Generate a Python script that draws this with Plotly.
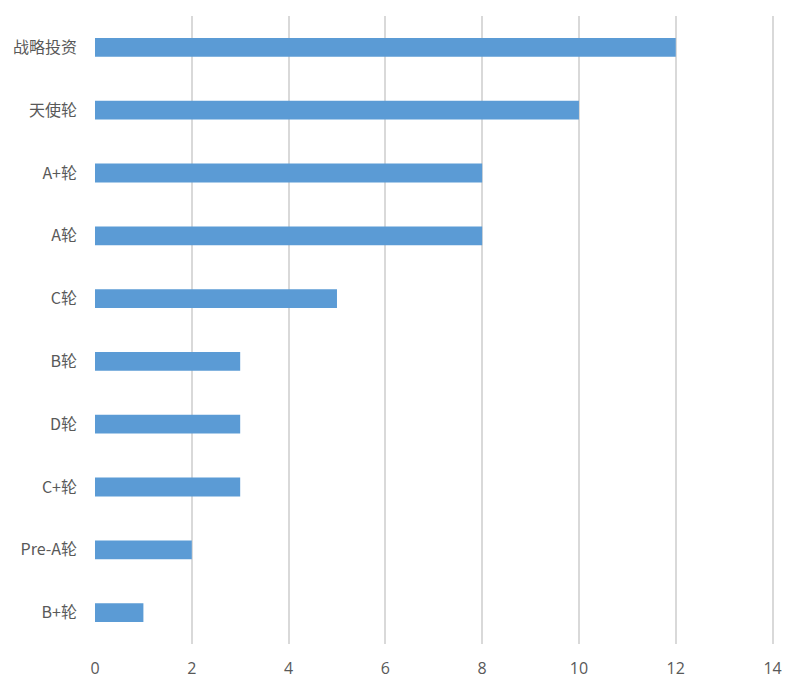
import plotly.graph_objects as go

categories = ["战略投资", "天使轮", "A+轮", "A轮", "C轮", "B轮", "D轮", "C+轮", "Pre-A轮", "B+轮"]
values = [12, 10, 8, 8, 5, 3, 3, 3, 2, 1]
x_ticks = [0, 2, 4, 6, 8, 10, 12, 14]

fig = go.Figure(go.Bar(
    x=values, y=categories, orientation="h",
    marker=dict(color="#5B9BD5", line=dict(width=0)),
    width=0.3,
))

fig.update_layout(
    width=800, height=685,
    margin=dict(l=95, r=26, t=16, b=41),
    plot_bgcolor="white", paper_bgcolor="white",
    font=dict(family="Open Sans, Noto Sans CJK SC, sans-serif", size=15, color="#595959"),
    showlegend=False,
)
fig.update_xaxes(
    range=[0, 14.03], tickvals=x_ticks, showgrid=True, gridcolor="#d9d9d9", gridwidth=1.5,
    zeroline=False, showline=False, ticks="", ticklabelstandoff=13,
    tickfont=dict(size=16), automargin=False,
)
fig.update_yaxes(
    categoryorder="array", categoryarray=categories, autorange="reversed",
    showgrid=False, zeroline=False, showline=False, ticks="", ticklabelstandoff=17,
    tickfont=dict(family="Noto Sans CJK SC, Open Sans, sans-serif", size=16),
    automargin=False,
)

fig.write_html("out.html")
